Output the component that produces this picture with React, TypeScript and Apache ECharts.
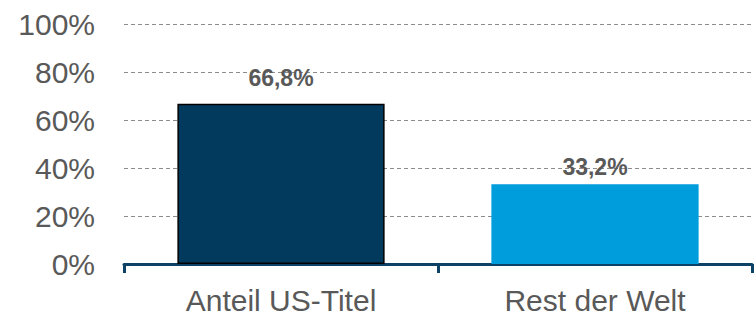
import React, { useEffect, useRef } from "react";
import * as echarts from "echarts";

const categories = ["Anteil US-Titel", "Rest der Welt"];
const values = [66.8, 33.2];
const labels = ["66,8%", "33,2%"];
const barColors = ["#023A5E", "#009DDC"];
const yTicks = [0, 20, 40, 60, 80, 100];

export default function App() {
  const ref = useRef<HTMLDivElement>(null);
  useEffect(() => {
    if (!ref.current) return;
    const chart = echarts.init(ref.current, undefined, { renderer: "svg" });
    chart.setOption({
      animation: false,
      grid: { left: 124, right: 3, top: 24, bottom: 51, containLabel: false },
      xAxis: {
        type: "category",
        data: categories,
        axisLine: { show: true, lineStyle: { color: "#0E4166", width: 3 } },
        axisTick: { show: true, alignWithLabel: false, length: 9, lineStyle: { color: "#0E4166", width: 3 } },
        axisLabel: { color: "#595959", fontSize: 30, fontFamily: "Liberation Sans, Arial", margin: 21 },
      },
      yAxis: {
        type: "value",
        min: 0,
        max: 100,
        interval: 20,
        axisLine: { show: false },
        axisTick: { show: false },
        axisLabel: {
          color: "#595959",
          fontSize: 30,
          fontFamily: "Liberation Sans, Arial",
          margin: 29,
          formatter: (v: number) => (yTicks.includes(v) ? v + "%" : ""),
        },
        splitLine: { show: true, lineStyle: { color: "#8C8C8C", type: [4, 3], width: 1 } },
      },
      series: [
        {
          type: "bar",
          barWidth: "66%",
          data: values.map((v, i) => ({
            value: v,
            itemStyle: {
              color: barColors[i],
              borderColor: i === 0 ? "#000000" : barColors[i],
              borderWidth: i === 0 ? 1.5 : 0,
            },
            label: { distance: i === 0 ? 14 : 6 },
          })),
          label: {
            show: true,
            position: "top",
            color: "#595959",
            fontWeight: "bold",
            fontSize: 23,
            fontFamily: "Liberation Sans, Arial",
            formatter: (p: any) => labels[p.dataIndex],
          },
        },
      ],
    });
    return () => chart.dispose();
  }, []);
  return <div ref={ref} style={{ width: 755, height: 315, position: "absolute", left: 0, top: 0 }} />;
}
